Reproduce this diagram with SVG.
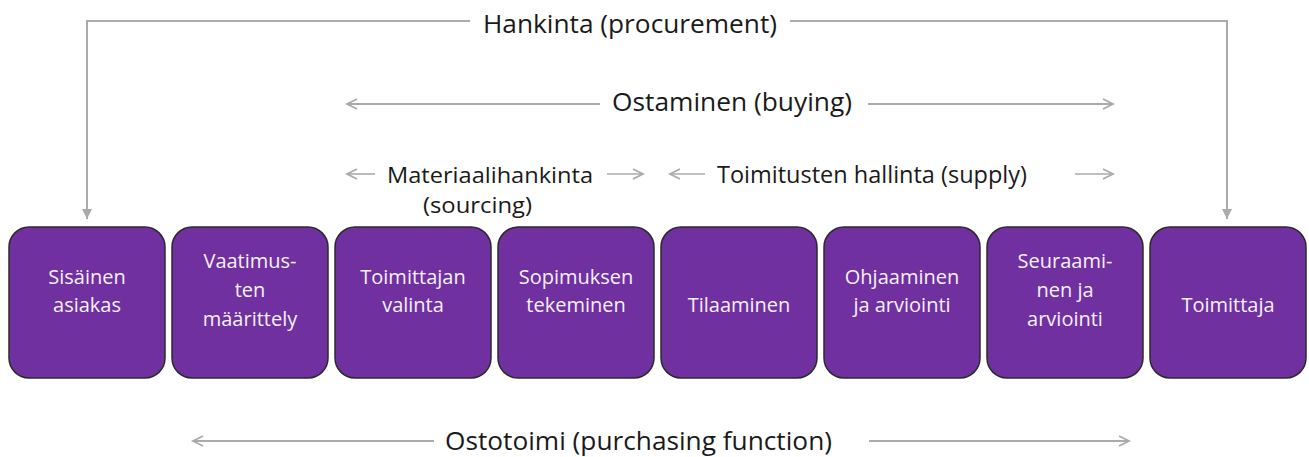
<svg xmlns="http://www.w3.org/2000/svg" width="1309" height="457" viewBox="0 0 1309 457">
<style>
.box{fill:#7030A0;stroke:#2b2b2b;stroke-width:1.5}
.bt{font-family:"Open Sans","Liberation Sans",sans-serif;font-size:20px;fill:#f4f0f7;text-anchor:middle}
.lbl{font-family:"Open Sans","Liberation Sans",sans-serif;fill:#1a1a1a}
.ln{fill:none;stroke:#ababab;stroke-width:2}
.ln2{fill:none;stroke:#ababab;stroke-width:1.6}
</style>
<defs>
<marker id="tri" markerUnits="userSpaceOnUse" markerWidth="12" markerHeight="12" refX="10" refY="5" orient="auto">
<path d="M0,0 L10,5 L0,10 Z" fill="#ababab"/>
</marker>
<marker id="chev" markerUnits="userSpaceOnUse" markerWidth="14" markerHeight="14" refX="11" refY="6" orient="auto-start-reverse">
<path d="M1,1 L11,6 L1,11" fill="none" stroke="#ababab" stroke-width="1.8"/>
</marker>
</defs>
<g id="connectors">
<polyline class="ln" points="470,21 87,21 87,219" marker-end="url(#tri)"/>
<polyline class="ln" points="790,21 1227,21 1227,219" marker-end="url(#tri)"/>
<line class="ln" x1="347" y1="104" x2="600" y2="104" marker-start="url(#chev)"/>
<line class="ln" x1="868" y1="104" x2="1113" y2="104" marker-end="url(#chev)"/>
<line class="ln2" x1="347" y1="174" x2="375" y2="174" marker-start="url(#chev)"/>
<line class="ln2" x1="607" y1="174" x2="643" y2="174" marker-end="url(#chev)"/>
<line class="ln2" x1="670" y1="174" x2="705" y2="174" marker-start="url(#chev)"/>
<line class="ln2" x1="1075" y1="174" x2="1113" y2="174" marker-end="url(#chev)"/>
<line class="ln" x1="193" y1="441" x2="434" y2="441" marker-start="url(#chev)"/>
<line class="ln" x1="869" y1="441" x2="1129" y2="441" marker-end="url(#chev)"/>
</g>
<g id="labels">
<text class="lbl" x="483" y="33" font-size="26" textLength="294" lengthAdjust="spacingAndGlyphs">Hankinta (procurement)</text>
<text class="lbl" x="612" y="111" font-size="25" textLength="240" lengthAdjust="spacingAndGlyphs">Ostaminen (buying)</text>
<text class="lbl" x="387" y="183" font-size="22" textLength="206" lengthAdjust="spacingAndGlyphs">Materiaalihankinta</text>
<text class="lbl" x="423" y="213" font-size="22" textLength="109" lengthAdjust="spacingAndGlyphs">(sourcing)</text>
<text class="lbl" x="717" y="183" font-size="23" textLength="310" lengthAdjust="spacingAndGlyphs">Toimitusten hallinta (supply)</text>
<text class="lbl" x="445" y="450" font-size="25" textLength="387" lengthAdjust="spacingAndGlyphs">Ostotoimi (purchasing function)</text>
</g>
<g id="n1"><rect class="box" x="9" y="227" width="156" height="151" rx="20"/><text class="bt" x="87" y="284">Sisäinen</text><text class="bt" x="87" y="312">asiakas</text></g>
<g id="n2"><rect class="box" x="172" y="227" width="156" height="151" rx="20"/><text class="bt" x="250" y="268">Vaatimus-</text><text class="bt" x="250" y="297">ten</text><text class="bt" x="250" y="326">määrittely</text></g>
<g id="n3"><rect class="box" x="335" y="227" width="156" height="151" rx="20"/><text class="bt" x="413" y="284">Toimittajan</text><text class="bt" x="413" y="312">valinta</text></g>
<g id="n4"><rect class="box" x="498" y="227" width="156" height="151" rx="20"/><text class="bt" x="576" y="284">Sopimuksen</text><text class="bt" x="576" y="312">tekeminen</text></g>
<g id="n5"><rect class="box" x="661" y="227" width="156" height="151" rx="20"/><text class="bt" x="739" y="312">Tilaaminen</text></g>
<g id="n6"><rect class="box" x="824" y="227" width="156" height="151" rx="20"/><text class="bt" x="902" y="284">Ohjaaminen</text><text class="bt" x="902" y="312">ja arviointi</text></g>
<g id="n7"><rect class="box" x="987" y="227" width="156" height="151" rx="20"/><text class="bt" x="1065" y="268">Seuraami-</text><text class="bt" x="1065" y="297">nen ja</text><text class="bt" x="1065" y="326">arviointi</text></g>
<g id="n8"><rect class="box" x="1150" y="227" width="156" height="151" rx="20"/><text class="bt" x="1228" y="312">Toimittaja</text></g>
</svg>
